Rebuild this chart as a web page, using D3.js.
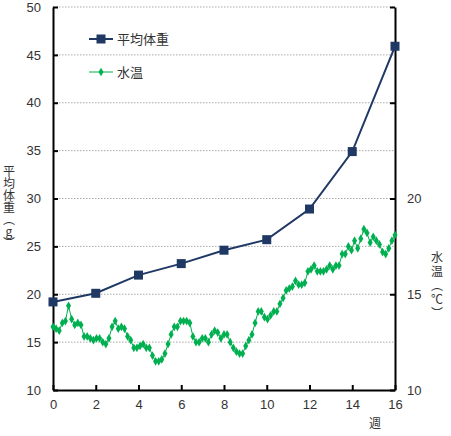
<!DOCTYPE html>
<html>
<head>
<meta charset="utf-8">
<script src="https://cdn.jsdelivr.net/npm/d3@7"></script>
<style>
  body { margin: 0; background: #fff; }
  text { font-family: "Liberation Sans", "Noto Sans CJK JP", sans-serif; fill: #333; }
  .vtitle { writing-mode: vertical-rl; text-orientation: upright; font-family: "Noto Sans CJK JP", sans-serif; }
</style>
</head>
<body>
<div id="wrapper"></div>
<script>
const weeks = [0, 2, 4, 6, 8, 10, 12, 14, 16];
const avgWeight = [19.2, 20.1, 22.0, 23.2, 24.6, 25.7, 28.9, 34.9, 45.9];

// daily water temperature, week 0 to week 16
const waterTemp = [
    13.3, 13.2, 13.1, 13.5, 13.6, 14.4, 13.7, 13.4, 13.5, 13.4,
    12.8, 12.8, 12.7, 12.6, 12.7, 12.7, 12.5, 12.4, 12.7, 13.3,
    13.6, 13.2, 13.3, 13.2, 12.8, 12.6, 12.2, 12.2, 12.3, 12.4,
    12.2, 12.2, 11.8, 11.5, 11.5, 11.6, 11.9, 12.4, 12.9, 13.3,
    13.3, 13.6, 13.6, 13.6, 13.5, 12.8, 12.5, 12.5, 12.7, 12.7,
    12.5, 12.9, 13.1, 13.0, 12.7, 12.9, 12.9, 12.5, 12.2, 12.0,
    11.9, 11.9, 12.3, 12.6, 12.9, 13.5, 14.1, 14.1, 13.8, 13.7,
    13.9, 14.1, 14.1, 14.5, 14.8, 15.2, 15.3, 15.4, 15.7, 15.5,
    15.5, 15.6, 16.2, 16.3, 16.5, 16.2, 16.2, 16.2, 16.3, 16.5,
    16.3, 16.5, 16.5, 17.1, 17.1, 17.5, 17.3, 17.8, 17.4, 17.9,
    18.4, 18.2, 17.7, 18.0, 17.8, 17.6, 17.2, 17.1, 17.4, 17.8,
    18.1
];

const leftTicks = [10, 15, 20, 25, 30, 35, 40, 45, 50];
const rightTicks = [10, 15, 20, 25, 30];
const rightTickLabels = [10, 15, 20];
const xTicks = [0, 2, 4, 6, 8, 10, 12, 14, 16];

const seriesNames = ["平均体重", "水温"];
const weightColor = "#1f3864";
const tempColor = "#00b050";

const dimensions = {
    width: 451,
    height: 436,
    margin: { top: 7, right: 56, bottom: 46, left: 53 }
};
dimensions.boundedWidth = dimensions.width - dimensions.margin.left - dimensions.margin.right;
dimensions.boundedHeight = dimensions.height - dimensions.margin.top - dimensions.margin.bottom;

const svg = d3.select("#wrapper")
    .append("svg")
    .attr("width", dimensions.width)
    .attr("height", dimensions.height);

const bounds = svg.append("g")
    .attr("transform", `translate(${dimensions.margin.left},${dimensions.margin.top})`);

const xScale = d3.scaleLinear().domain([0, 16]).range([0, dimensions.boundedWidth]);
const yLeft = d3.scaleLinear().domain([10, 50]).range([dimensions.boundedHeight, 0]);
const yRight = d3.scaleLinear().domain([10, 30]).range([dimensions.boundedHeight, 0]);

// gridlines
bounds.append("g")
    .selectAll("line")
    .data(leftTicks.slice(1))
    .join("line")
    .attr("x1", 0)
    .attr("x2", dimensions.boundedWidth)
    .attr("y1", d => yLeft(d))
    .attr("y2", d => yLeft(d))
    .attr("stroke", "#aaa")
    .attr("stroke-width", 1)
    .attr("stroke-dasharray", "1.5,1.5");

// axes
const xAxis = d3.axisBottom(xScale).tickValues(xTicks).tickSizeInner(-5).tickSizeOuter(0).tickPadding(10);
const leftAxis = d3.axisLeft(yLeft).tickValues(leftTicks).tickSizeInner(-5).tickSizeOuter(0).tickPadding(12);
const rightAxis = d3.axisRight(yRight).tickValues(rightTicks).tickSizeInner(-5).tickSizeOuter(0).tickPadding(12)
    .tickFormat(d => rightTickLabels.includes(d) ? d : "");

const styleAxis = g => {
    g.select(".domain").attr("stroke", "#000").attr("stroke-width", 2);
    g.selectAll(".tick line").attr("stroke", "#000").attr("stroke-width", 2);
    g.selectAll(".tick text").attr("font-size", 13).attr("fill", "#333")
        .style("font-family", '"Liberation Sans", sans-serif');
};

bounds.append("g")
    .attr("transform", `translate(0,${dimensions.boundedHeight})`)
    .call(xAxis)
    .call(styleAxis);

bounds.append("g")
    .call(leftAxis)
    .call(styleAxis);

bounds.append("g")
    .attr("transform", `translate(${dimensions.boundedWidth},0)`)
    .call(rightAxis)
    .call(styleAxis);

// water temperature
const tempX = i => xScale(i * 16 / (waterTemp.length - 1));

const tempLine = d3.line()
    .x((d, i) => tempX(i))
    .y(d => yRight(d));

bounds.append("path")
    .datum(waterTemp)
    .attr("d", tempLine)
    .attr("fill", "none")
    .attr("stroke", tempColor)
    .attr("stroke-width", 1);

bounds.append("g")
    .selectAll("path")
    .data(waterTemp)
    .join("path")
    .attr("transform", (d, i) => `translate(${tempX(i)},${yRight(d)})`)
    .attr("d", d3.symbol(d3.symbolDiamond, 22))
    .attr("fill", tempColor);

// average weight
const weightLine = d3.line()
    .x((d, i) => xScale(weeks[i]))
    .y(d => yLeft(d));

bounds.append("path")
    .datum(avgWeight)
    .attr("d", weightLine)
    .attr("fill", "none")
    .attr("stroke", weightColor)
    .attr("stroke-width", 2);

bounds.append("g")
    .selectAll("rect")
    .data(avgWeight)
    .join("rect")
    .attr("x", (d, i) => xScale(weeks[i]) - 4.5)
    .attr("y", d => yLeft(d) - 4.5)
    .attr("width", 9)
    .attr("height", 9)
    .attr("fill", weightColor);

// legend
const legend = svg.append("g");
const legendRows = [
    { name: seriesNames[0], color: weightColor, y: 39 },
    { name: seriesNames[1], color: tempColor, y: 72 }
];
legendRows.forEach((row, i) => {
    legend.append("line")
        .attr("x1", 89).attr("x2", 113)
        .attr("y1", row.y).attr("y2", row.y)
        .attr("stroke", row.color)
        .attr("stroke-width", i === 0 ? 2 : 1);
    if (i === 0) {
        legend.append("rect")
            .attr("x", 101 - 4.5).attr("y", row.y - 4.5)
            .attr("width", 9).attr("height", 9)
            .attr("fill", row.color);
    } else {
        legend.append("path")
            .attr("transform", `translate(101,${row.y})`)
            .attr("d", d3.symbol(d3.symbolDiamond, 22))
            .attr("fill", row.color);
    }
    legend.append("text")
        .attr("x", 117)
        .attr("y", row.y)
        .attr("dy", "0.35em")
        .attr("font-size", 13)
        .text(row.name);
});

// vertical axis titles
svg.append("text")
    .attr("class", "vtitle")
    .attr("x", 9)
    .attr("y", 165)
    .attr("font-size", 12)
    .text("平均体重（g）");

svg.append("text")
    .attr("class", "vtitle")
    .attr("x", 437)
    .attr("y", 251)
    .attr("font-size", 12)
    .style("letter-spacing", "2px")
    .text("水温（℃）");

svg.append("text")
    .attr("x", 375)
    .attr("y", 424)
    .attr("text-anchor", "middle")
    .attr("dy", "0.35em")
    .attr("font-size", 12)
    .style("font-family", '"Noto Sans CJK JP", sans-serif')
    .text("週");
</script>
</body>
</html>
